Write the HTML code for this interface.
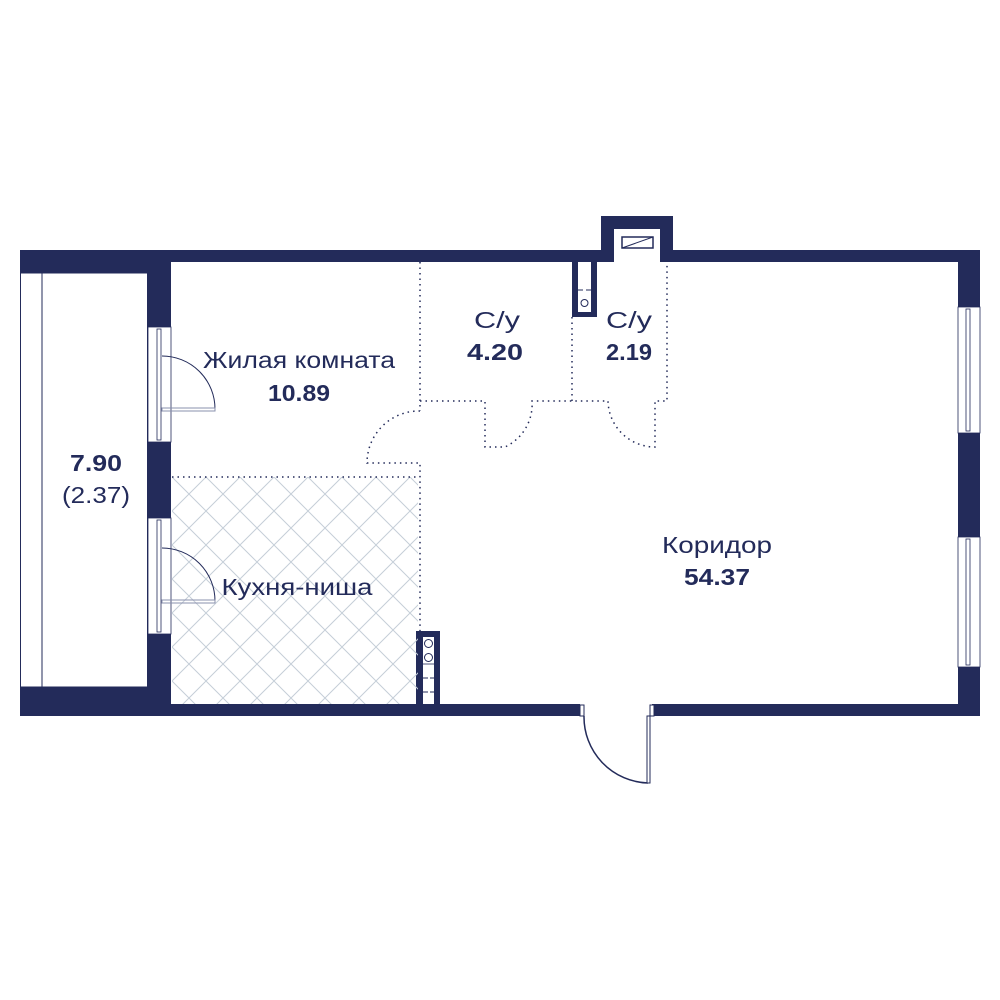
<!DOCTYPE html>
<html><head><meta charset="utf-8"><style>
html,body{margin:0;padding:0;background:#fff}
svg{display:block}
text{font-family:"Liberation Sans","DejaVu Sans",sans-serif;fill:#232b5a;text-anchor:middle}
</style></head><body>
<svg width="1000" height="1000" viewBox="0 0 1000 1000" xmlns="http://www.w3.org/2000/svg">
<defs>
<pattern id="hatch" width="34" height="34" patternUnits="userSpaceOnUse" x="172" y="477">
<path d="M0 0L34 34M34 0L0 34" stroke="#c5ced8" stroke-width="1"/>
</pattern>
</defs>
<g fill="#232b5a">
<rect x="20" y="250" width="960" height="12"/>
<rect x="20" y="250" width="151" height="23"/>
<rect x="148" y="262" width="23" height="65"/>
<rect x="148" y="442" width="23" height="76"/>
<rect x="148" y="634" width="23" height="82"/>
<rect x="20" y="687" width="151" height="29"/>
<rect x="148" y="704" width="432" height="12"/>
<rect x="652" y="704" width="328" height="12"/>
<rect x="958" y="250" width="22" height="57"/>
<rect x="958" y="433" width="22" height="104"/>
<rect x="958" y="667" width="22" height="49"/>
<rect x="601" y="216" width="72" height="46"/>
<rect x="572" y="262" width="25" height="55"/>
<rect x="416" y="631" width="24" height="73"/>
</g>
<rect x="20.5" y="273" width="127" height="414" fill="#fff" stroke="#232b5a" stroke-width="1"/>
<line x1="42" y1="273" x2="42" y2="687" stroke="#232b5a" stroke-width="1"/>
<rect x="614" y="229" width="46" height="34" fill="#fff"/>
<rect x="622" y="237" width="31" height="11" fill="#fff" stroke="#232b5a" stroke-width="1.5"/>
<line x1="622" y1="248" x2="653" y2="237" stroke="#232b5a" stroke-width="1"/>
<rect x="578" y="262" width="13" height="50" fill="#fff"/>
<line x1="578" y1="290" x2="583" y2="290" stroke="#232b5a"/><line x1="586" y1="290" x2="591" y2="290" stroke="#232b5a"/>
<circle cx="584.5" cy="303" r="3.5" fill="none" stroke="#232b5a"/>
<rect x="172" y="477" width="246" height="227" fill="url(#hatch)"/>
<rect x="423" y="637" width="11" height="67" fill="#fff"/>
<circle cx="428.5" cy="643.5" r="4" fill="none" stroke="#232b5a"/>
<circle cx="428.5" cy="657.5" r="4" fill="none" stroke="#232b5a"/>
<line x1="423" y1="664" x2="434" y2="664" stroke="#232b5a" stroke-width="0.8"/>
<line x1="423" y1="678" x2="428" y2="678" stroke="#232b5a"/><line x1="430" y1="678" x2="434" y2="678" stroke="#232b5a"/>
<line x1="423" y1="692" x2="428" y2="692" stroke="#232b5a"/><line x1="430" y1="692" x2="434" y2="692" stroke="#232b5a"/>
<g fill="#fff" stroke="#232b5a" stroke-width="0.8">
<rect x="148" y="327" width="23" height="115"/>
<rect x="157" y="329" width="4" height="111"/>
<rect x="148" y="518" width="23" height="116"/>
<rect x="157" y="520" width="4" height="112"/>
<rect x="958" y="307" width="22" height="126"/>
<rect x="966" y="309" width="4" height="122"/>
<rect x="958" y="537" width="22" height="130"/>
<rect x="966" y="539" width="4" height="126"/>
</g>
<g fill="none" stroke="#232b5a" stroke-width="1">
<path d="M162 356A53 53 0 0 1 215 409"/>
<rect x="162" y="408" width="53" height="3" stroke="#8a90ad"/>
<path d="M162 548A53 53 0 0 1 215 601"/>
<rect x="162" y="600" width="53" height="3" stroke="#8a90ad"/>
<rect x="580" y="705" width="4" height="11" fill="#fff"/>
<rect x="650" y="705" width="4" height="11" fill="#fff"/>
<path d="M584 716A66 66 0 0 0 648 783" stroke-width="1.5"/>
<rect x="647" y="716" width="3" height="67" fill="#fff"/>
</g>
<g fill="none" stroke="#232b5a" stroke-width="1.5" stroke-dasharray="1.5 4">
<path d="M420 262V411"/>
<path d="M420 411A52 52 0 0 0 367 463H420V632"/>
<path d="M172 477H418"/>
<path d="M420 401H485V447H505A47 47 0 0 0 532 401H608A47 47 0 0 0 655 447V401H667V262"/>
<path d="M572 317V401"/>
</g>
<g font-size="23" lengthAdjust="spacingAndGlyphs">
<text x="299" y="368" textLength="192" lengthAdjust="spacingAndGlyphs">Жилая комната</text>
<text x="299" y="401" font-weight="bold" textLength="62" lengthAdjust="spacingAndGlyphs">10.89</text>
<text x="497" y="328" textLength="46" lengthAdjust="spacingAndGlyphs">С/у</text>
<text x="495" y="360" font-weight="bold" textLength="56" lengthAdjust="spacingAndGlyphs">4.20</text>
<text x="629" y="328" textLength="46" lengthAdjust="spacingAndGlyphs">С/у</text>
<text x="629" y="360" font-weight="bold" textLength="46" lengthAdjust="spacingAndGlyphs">2.19</text>
<text x="717" y="553" textLength="110" lengthAdjust="spacingAndGlyphs">Коридор</text>
<text x="717" y="585" font-weight="bold" textLength="66" lengthAdjust="spacingAndGlyphs">54.37</text>
<text x="96" y="471" font-weight="bold" textLength="52" lengthAdjust="spacingAndGlyphs">7.90</text>
<text x="96" y="503" textLength="68" lengthAdjust="spacingAndGlyphs">(2.37)</text>
<text x="297" y="595" textLength="151" lengthAdjust="spacingAndGlyphs">Кухня-ниша</text>
</g>
</svg>
</body></html>
